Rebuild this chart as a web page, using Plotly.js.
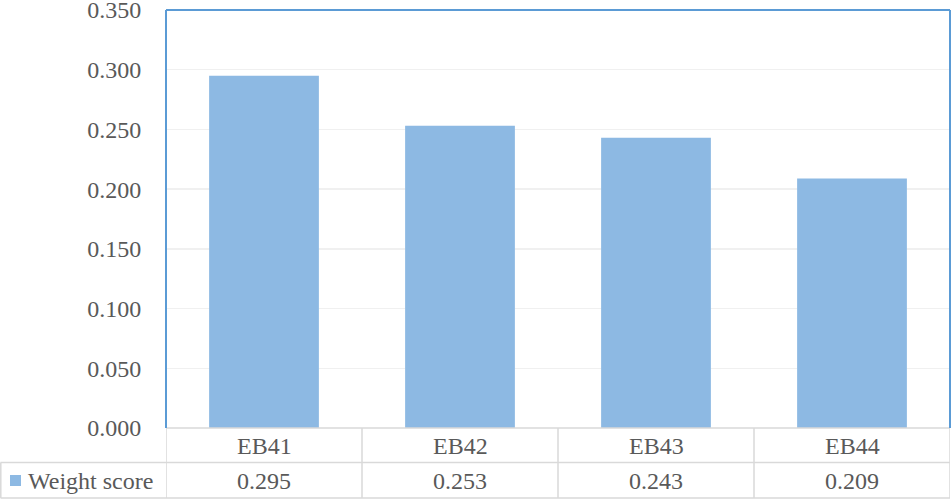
<!DOCTYPE html>
<html>
<head>
<meta charset="utf-8">
<script src="https://cdn.plot.ly/plotly-3.0.1.min.js"></script>
<style>html,body{margin:0;padding:0;background:#fff;}#chart{width:952px;height:501px;}</style>
</head>
<body>
<div id="chart"></div>
<script>
const categories = ["EB41", "EB42", "EB43", "EB44"];
const weightScore = [0.295, 0.253, 0.243, 0.209];
const seriesName = "Weight score";
const yTicks = [0, 0.05, 0.1, 0.15, 0.2, 0.25, 0.3, 0.35];

const W = 952, H = 501;
const mL = 166, mR = 2, mT = 10, mB = 73;
const pw = W - mL - mR, ph = H - mT - mB;
const px2x = px => (px - mL) / pw;
const py2y = py => (H - mB - py) / ph;

const font = {family: "Liberation Serif, Times New Roman, serif", size: 24, color: "#595959"};
const gridC = "#D9D9D9";
const frameC = "#5B9BD5";
const barC = "#8DB9E3";

const shapes = [];
const n = categories.length;
// table horizontal lines
shapes.push({type: "line", xref: "paper", yref: "paper", x0: 0, x1: 1, y0: 0, y1: 0, line: {color: gridC, width: 1.5}});
shapes.push({type: "line", xref: "paper", yref: "paper", x0: px2x(0.5), x1: 1, y0: py2y(462.5), y1: py2y(462.5), line: {color: gridC, width: 1.5}});
shapes.push({type: "line", xref: "paper", yref: "paper", x0: px2x(0.5), x1: 1, y0: py2y(498), y1: py2y(498), line: {color: gridC, width: 1.5}});
// table vertical lines
for (let i = 0; i <= n; i++) {
  shapes.push({type: "line", xref: "x", yref: "paper", x0: i - 0.5, x1: i - 0.5, y0: 0, y1: py2y(498), line: {color: gridC, width: 1.5}});
}
shapes.push({type: "line", xref: "paper", yref: "paper", x0: px2x(0.8), x1: px2x(0.8), y0: py2y(462.5), y1: py2y(498), line: {color: gridC, width: 1.5}});
// legend key
shapes.push({type: "rect", xref: "paper", yref: "paper", x0: px2x(10), x1: px2x(21), y0: py2y(475), y1: py2y(486), fillcolor: barC, line: {width: 0}});
// blue frame (left, top, right)
shapes.push({type: "line", xref: "paper", yref: "paper", x0: 0, x1: 0, y0: 0, y1: 1, line: {color: frameC, width: 2}});
shapes.push({type: "line", xref: "paper", yref: "paper", x0: 0, x1: 1, y0: 1, y1: 1, line: {color: frameC, width: 2}});
shapes.push({type: "line", xref: "paper", yref: "paper", x0: 1, x1: 1, y0: 0, y1: 1, line: {color: frameC, width: 2}});

const annotations = [];
categories.forEach((c, i) => {
  annotations.push({x: c, xref: "x", y: py2y(446), yref: "paper", text: c, showarrow: false, font: font, xanchor: "center", yanchor: "middle"});
  annotations.push({x: c, xref: "x", y: py2y(481), yref: "paper", text: weightScore[i].toFixed(3), showarrow: false, font: font, xanchor: "center", yanchor: "middle"});
});
annotations.push({x: px2x(26), xref: "paper", y: py2y(481), yref: "paper", text: seriesName, showarrow: false, font: font, xanchor: "left", yanchor: "middle"});

const data = [{
  type: "bar",
  x: categories,
  y: weightScore,
  name: seriesName,
  marker: {color: barC},
  hoverinfo: "x+y"
}];

const layout = {
  width: W, height: H,
  margin: {l: mL, r: mR, t: mT, b: mB, pad: 0},
  paper_bgcolor: "#ffffff",
  plot_bgcolor: "#ffffff",
  showlegend: false,
  bargap: 0.44,
  font: font,
  xaxis: {
    type: "category",
    range: [-0.5, n - 0.5],
    showticklabels: false,
    showgrid: false,
    zeroline: false,
    showline: false,
    ticks: ""
  },
  yaxis: {
    range: [0, 0.35],
    tickvals: yTicks,
    tickformat: ".3f",
    ticklabeloverflow: "allow",
    showgrid: true,
    gridcolor: "#F0F0F0",
    gridwidth: 1.5,
    zeroline: false,
    showline: false,
    ticks: "outside",
    ticklen: 19,
    tickcolor: "rgba(0,0,0,0)",
    tickfont: font
  },
  shapes: shapes,
  annotations: annotations
};

Plotly.newPlot("chart", data, layout, {displayModeBar: false, staticPlot: true});
</script>
</body>
</html>
